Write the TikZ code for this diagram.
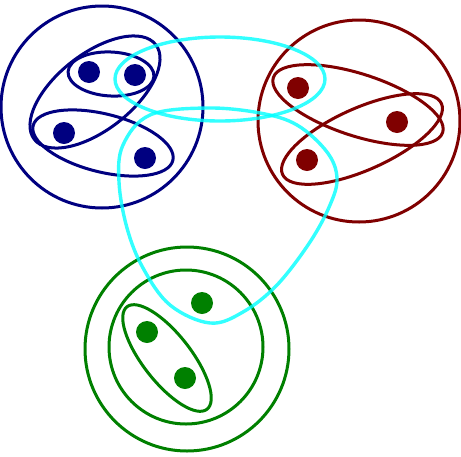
\documentclass[tikz,border=0pt]{standalone}
\usepackage{tikz}
\usetikzlibrary{shapes.geometric, positioning, calc}
\definecolor{mynavy}{RGB}{0,0,128}
\definecolor{mymaroon}{RGB}{128,0,0}
\definecolor{mygreen}{RGB}{0,128,0}
\definecolor{mycyan}{RGB}{0,255,255}
\tikzset{
  dot/.style={circle, inner sep=0pt, minimum size=22pt},
  edge/.style={line width=3pt},
  hyper/.style={line width=3.4pt, draw=mycyan, opacity=0.8}
}

\begin{document}
\begin{tikzpicture}[x=1pt, y=-1pt]
  \useasboundingbox (0,0) rectangle (461,456);

  % blue vertices
  \node[dot, fill=mynavy] (b1) at (89,72) {};
  \node[dot, fill=mynavy] (b2) at (135,75) {};
  \node[dot, fill=mynavy] (b3) at (64,133) {};
  \node[dot, fill=mynavy] (b4) at (145,158) {};
  % red vertices
  \node[dot, fill=mymaroon] (r1) at (298,88) {};
  \node[dot, fill=mymaroon] (r2) at (397,122) {};
  \node[dot, fill=mymaroon] (r3) at (307,160) {};
  % green vertices
  \node[dot, fill=mygreen] (g1) at (202,303) {};
  \node[dot, fill=mygreen] (g2) at (147,332) {};
  \node[dot, fill=mygreen] (g3) at (185,378) {};

  % blue cluster
  \draw[edge, mynavy] (102,107) circle (101);
  \draw[edge, mynavy, rotate around={-3:(111,74)}] (111,74) ellipse (43 and 22);
  \draw[edge, mynavy, rotate around={-14:(103,143)}] (103,143) ellipse (72 and 29);
  \draw[edge, mynavy, rotate around={38:(95,92)}] (95,92) ellipse (77 and 38);

  % red cluster
  \draw[edge, mymaroon] (359,121) circle (101);
  \draw[edge, mymaroon, rotate around={-18:(358,105)}] (358,105) ellipse (89 and 31);
  \draw[edge, mymaroon, rotate around={24:(362,139)}] (362,139) ellipse (87 and 31);

  % green cluster
  \draw[edge, mygreen] (187,349) circle (102);
  \draw[edge, mygreen] (186,347) circle (77);
  \draw[edge, mygreen, rotate around={-52:(167,358)}] (167,358) ellipse (65 and 24);

  % cyan hyperedges
  \draw[hyper] (220,79) ellipse (105 and 42);
  \draw[hyper] plot[smooth cycle, tension=0.6] coordinates
    {(207,108) (260,113) (297,125) (327,152) (337,178) (330,205) (310,242)
     (277,285) (243,312) (210,323) (170,305) (143,268) (127,228) (119,182)
     (123,145) (150,115)};
\end{tikzpicture}
\end{document}
